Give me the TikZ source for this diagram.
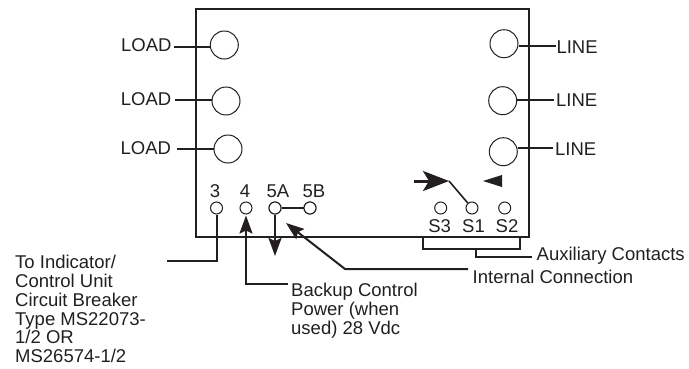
\documentclass[tikz,border=0pt]{standalone}
\usepackage{fontspec}
\setmainfont{Liberation Sans}
\usetikzlibrary{arrows.meta}
\definecolor{ink}{HTML}{231F20}
\tikzset{
 x=1pt,y=-1pt,
 wire/.style={draw=ink,line width=2pt},
 frame/.style={draw=ink,line width=2.2pt},
 bigport/.style={circle,draw=ink,line width=1pt,fill=white,minimum size=28pt,inner sep=0pt},
 smallport/.style={circle,draw=ink,line width=1pt,fill=white,minimum size=12pt,inner sep=0pt},
 lbl/.style={text=ink,font=\fontsize{18.5}{18.9}\selectfont,inner sep=0pt,anchor=base west,align=left},
 ctr/.style={text=ink,font=\fontsize{18.5}{18.9}\selectfont,inner sep=0pt,anchor=base},
 tip/.style={-{Stealth[length=18pt,width=13pt,inset=3pt]}},
}
\begin{document}
\begin{tikzpicture}
\useasboundingbox (0,0) rectangle (689,368);
\node[minimum width=333pt,minimum height=228pt,frame,inner sep=0pt] (box) at (362.5,123) {};
% load
\node[bigport] (p1) at (224.3,45) {};
\node[bigport] (p2) at (226,101) {};
\node[bigport] (p3) at (228,149) {};
\node[lbl] (l1) at (121,51.7) {LOAD};
\node[lbl] (l2) at (120.7,105.7) {LOAD};
\node[lbl] (l3) at (120.4,154.7) {LOAD};
\coordinate (a1) at (174,46.7);\coordinate (a2) at (175.3,100);\coordinate (a3) at (177,148.7);
\draw[wire] (a1) -- (p1.west|-a1);
\draw[wire] (a2) -- (p2.west|-a2);
\draw[wire] (a3) -- (p3.west|-a3);
% line
\node[bigport] (q1) at (504,43.7) {};
\node[bigport] (q2) at (502.7,100.7) {};
\node[bigport] (q3) at (503.3,151.7) {};
\node[lbl] (r1) at (556.3,53.3) {LINE};
\node[lbl] (r2) at (556,106) {LINE};
\node[lbl] (r3) at (555,155) {LINE};
\coordinate (e1) at (556,45.7);\coordinate (e2) at (554,99.7);\coordinate (e3) at (553,148.3);
\draw[wire] (q1.east|-e1) -- (e1);
\draw[wire] (q2.east|-e2) -- (e2);
\draw[wire] (q3.east|-e3) -- (e3);
% small
\node[smallport] (t3) at (216.5,208) {};
\node[smallport] (t4) at (246,208) {};
\node[smallport] (t5a) at (275,208) {};
\node[smallport] (t5b) at (310,208) {};
\node[smallport] (s3) at (440.7,208) {};
\node[smallport] (s1) at (472,208) {};
\node[smallport] (s2) at (504.7,208) {};
\node[ctr] (n3) at (215,197) {3};
\node[ctr] (n4) at (245,197) {4};
\node[ctr] (n5a) at (278,197) {5A};
\node[ctr] (n5b) at (314,197) {5B};
\node[ctr] (ns3) at (439.7,232.7) {S3};
\node[ctr] (ns1) at (473.5,232.7) {S1};
\node[ctr] (ns2) at (507,232.7) {S2};
% connectors
\coordinate (c3) at (167,261);
\coordinate (c4) at (288,284);
\coordinate (c5) at (275,256);
\coordinate (ci) at (468,269);
\coordinate (ci2) at (345,269);
\coordinate (cit) at (286,223);
\coordinate (sw0) at (414,181);
\coordinate (sw1) at (449,181);
\coordinate (b1) at (423,237);\coordinate (b2) at (520,237);
\coordinate (aux) at (532,257);
\draw[wire] (t3.south) |- (c3);
\draw[wire,tip] (c4) -| ([yshift=-1pt]t4.south);
\draw[wire,tip] (t5a.south) -- (c5);
\draw[wire] (t5a) -- (t5b);
\node[smallport] at (t5a) {};
\node[smallport] at (t5b) {};
\draw[wire,tip] (ci) -- (ci2) -- (cit);
\draw[wire,line width=3pt,-{Stealth[length=26pt,width=20pt,inset=6pt]}] (sw0) -- (sw1);
\draw[wire,line width=1.6pt] (sw1) -- (s1);
\fill[ink] (483,181) -- (502,175) -- (502,187) -- cycle;
\draw[wire] (b1) |- (b2|-0,248.7) -- (b2);
\draw[wire] (476,248.7) |- (aux);
% text
\node[lbl] (taux) at (536.5,260.7) {Auxiliary Contacts};
\node[lbl] (tint) at (472.5,283) {Internal Connection};
\node[lbl,anchor=base west] (tb) at (291,296.7) {Backup Control};
\node[lbl] (tb2) at (291,315.6) {Power (when};
\node[lbl] (tb3) at (291,334.5) {used) 28 Vdc};
\node[lbl] (ti1) at (15,268.3) {To Indicator/};
\node[lbl] (ti2) at (15,287.2) {Control Unit};
\node[lbl] (ti3) at (15,306.1) {Circuit Breaker};
\node[lbl] (ti4) at (15,325) {Type MS22073-};
\node[lbl] (ti5) at (15,343.9) {1/2 OR};
\node[lbl] (ti6) at (15,362.7) {MS26574-1/2};
\end{tikzpicture}
\end{document}
